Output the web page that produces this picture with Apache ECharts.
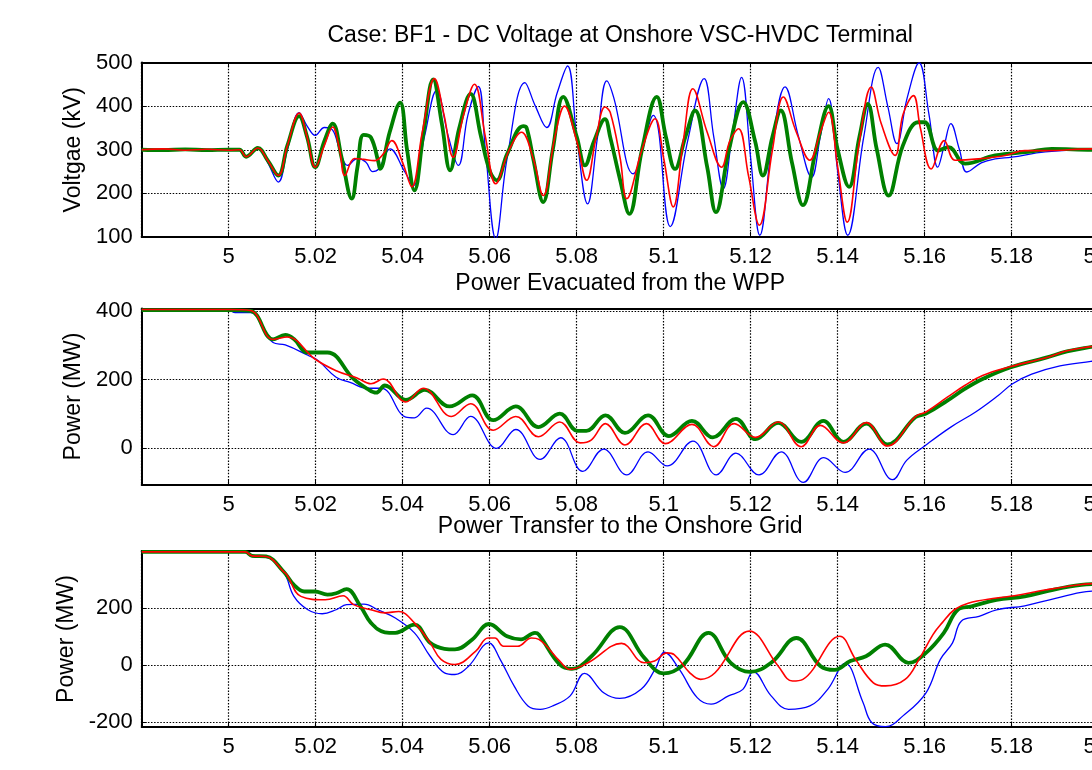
<!DOCTYPE html>
<html>
<head>
<meta charset="utf-8">
<script src="https://cdn.jsdelivr.net/npm/echarts@6/dist/echarts.min.js"></script>
<style>
html,body{margin:0;padding:0;background:#fff;}
#chart{width:1092px;height:770px;}
</style>
</head>
<body>
<div id="chart"></div>
<script>
// ---------- titles / labels ----------
const titles = ['Case: BF1 - DC Voltage at Onshore VSC-HVDC Terminal', 'Power Evacuated from the WPP', 'Power Transfer to the Onshore Grid'];
const yNames = ['Voltgae (kV)', 'Power (MW)', 'Power (MW)'];
const xTicks = [4.98, 5.2, 0.02]; // min, max, step
const yTicksMid = [0, 200, 400];
const yTicksBot = [-200, 0, 200];

// ---------- DC voltage (kV) ----------
const voltBlue = [[4.98,300],[4.985,301],[4.99,299],[4.995,301],[5.0,300],[5.0025,300],[5.004,284],[5.0067,304],[5.009,270],[5.0114,226],[5.0135,300],[5.0162,385],[5.018,355],[5.0199,333],[5.022,351],[5.0239,345],[5.0255,300],[5.0273,264],[5.0296,280],[5.0315,272],[5.0331,250],[5.0345,256],[5.0371,302],[5.0405,249],[5.0425,218],[5.045,330],[5.0478,436],[5.0505,330],[5.0528,264],[5.055,380],[5.0574,445],[5.059,300],[5.0614,96],[5.064,280],[5.0681,454],[5.0705,400],[5.0731,351],[5.0755,430],[5.0779,492],[5.080,330],[5.0825,176],[5.0848,330],[5.0869,458],[5.0885,420],[5.093,245],[5.0976,379],[5.1015,124],[5.1055,320],[5.1093,463],[5.1115,330],[5.1137,211],[5.1158,340],[5.1179,466],[5.12,280],[5.1221,104],[5.125,320],[5.1279,444],[5.131,330],[5.134,237],[5.136,330],[5.1379,417],[5.140,250],[5.1423,104],[5.146,330],[5.1493,489],[5.1515,400],[5.1536,314],[5.156,420],[5.1587,499],[5.161,380],[5.163,260],[5.1645,310],[5.166,360],[5.168,300],[5.1697,249],[5.173,270],[5.1762,279],[5.18,283],[5.1877,295],[5.1985,301],[5.2,300]];
const voltGreen = [[4.98,300],[4.985,299],[4.99,301],[4.995,299],[5.0,300],[5.0025,300],[5.004,284],[5.0067,304],[5.009,275],[5.0114,241],[5.0135,310],[5.0162,377],[5.018,330],[5.0199,260],[5.022,320],[5.0239,360],[5.026,280],[5.0283,188],[5.0296,260],[5.031,334],[5.0327,328],[5.0344,272],[5.0348,256],[5.037,340],[5.0394,408],[5.041,300],[5.0427,207],[5.0448,340],[5.047,461],[5.049,360],[5.0509,253],[5.053,350],[5.0556,428],[5.058,330],[5.0601,249],[5.0616,230],[5.064,290],[5.0677,354],[5.0685,350],[5.070,280],[5.0723,180],[5.0745,300],[5.0769,421],[5.080,330],[5.0819,264],[5.084,320],[5.0865,370],[5.0877,329],[5.090,230],[5.0921,153],[5.095,300],[5.0984,421],[5.1005,330],[5.1026,256],[5.105,330],[5.1072,390],[5.110,260],[5.112,157],[5.115,300],[5.1183,409],[5.121,320],[5.1228,241],[5.125,330],[5.1269,390],[5.1295,270],[5.132,173],[5.135,300],[5.1379,400],[5.140,300],[5.1426,215],[5.145,330],[5.1469,405],[5.149,300],[5.1517,195],[5.155,310],[5.1585,363],[5.160,363],[5.1631,298],[5.1655,306],[5.1693,268],[5.1762,287],[5.1838,295],[5.1892,302],[5.1985,300],[5.2,300]];
const voltRed = [[4.98,300],[4.985,302],[4.99,299],[4.995,301],[5.0,299],[5.0025,300],[5.004,284],[5.0067,304],[5.009,275],[5.0114,241],[5.0135,310],[5.0162,384],[5.018,330],[5.0199,260],[5.022,310],[5.0239,352],[5.0255,300],[5.0267,241],[5.0289,280],[5.031,278],[5.0335,275],[5.0355,290],[5.0375,321],[5.040,270],[5.0421,215],[5.0445,340],[5.0473,463],[5.0495,380],[5.0516,283],[5.054,380],[5.0565,450],[5.059,330],[5.0614,222],[5.0645,300],[5.0673,340],[5.070,280],[5.0723,195],[5.075,330],[5.0772,400],[5.080,320],[5.0823,230],[5.0845,330],[5.0865,398],[5.0877,386],[5.090,280],[5.0915,188],[5.095,300],[5.098,371],[5.100,280],[5.1022,169],[5.1045,320],[5.1067,440],[5.110,340],[5.1133,260],[5.1152,320],[5.1172,348],[5.1195,240],[5.122,127],[5.125,300],[5.1275,421],[5.1305,340],[5.1336,276],[5.136,340],[5.1379,386],[5.140,260],[5.1422,134],[5.145,320],[5.1477,444],[5.150,360],[5.1532,287],[5.155,380],[5.1574,424],[5.159,350],[5.1615,256],[5.1645,321],[5.167,276],[5.1723,279],[5.1785,287],[5.183,298],[5.1877,298],[5.1985,302],[5.2,300]];

// ---------- Power evacuated from WPP (MW) ----------
const evacBlue = [[4.98,403],[5.0,402],[5.0015,395],[5.005,395],[5.0102,308],[5.013,301],[5.0182,271],[5.0206,255],[5.0247,207],[5.0279,192],[5.0319,175],[5.0351,175],[5.0407,91],[5.0427,89],[5.0455,117],[5.0516,40],[5.0556,93],[5.0616,0],[5.066,55],[5.0716,-32],[5.0763,31],[5.0814,-67],[5.0862,-2],[5.0915,-77],[5.0964,-10],[5.1008,-51],[5.1067,21],[5.1121,-77],[5.1166,-14],[5.1219,-77],[5.127,-10],[5.1321,-99],[5.1368,-27],[5.1417,-70],[5.1472,-2],[5.1526,-91],[5.1559,-34],[5.1603,10],[5.166,62],[5.1717,106],[5.1769,154],[5.1802,188],[5.1846,216],[5.1911,240],[5.1982,253],[5.2,256]];
const evacGreen = [[4.98,402],[5.0,402],[5.005,400],[5.0102,317],[5.013,330],[5.015,318],[5.0182,279],[5.0227,279],[5.0287,202],[5.0319,173],[5.0339,162],[5.0359,183],[5.0407,141],[5.0451,170],[5.0508,122],[5.056,154],[5.0608,82],[5.066,122],[5.0712,62],[5.0761,101],[5.0802,51],[5.0822,51],[5.0866,96],[5.0911,45],[5.0964,96],[5.1012,36],[5.1065,80],[5.1113,32],[5.1166,86],[5.1211,27],[5.1263,74],[5.1316,19],[5.1367,80],[5.1413,19],[5.1466,72],[5.1514,12],[5.1579,91],[5.1603,101],[5.1652,139],[5.1692,173],[5.1733,202],[5.1798,236],[5.1879,264],[5.1927,282],[5.1982,295],[5.2,298]];
const evacRed = [[4.98,404],[5.0,404],[5.005,401],[5.0102,317],[5.0135,324],[5.0198,260],[5.0247,226],[5.0295,205],[5.0327,188],[5.0355,202],[5.0407,135],[5.0447,175],[5.0512,93],[5.0556,130],[5.0608,53],[5.066,93],[5.0712,34],[5.0761,77],[5.0808,16],[5.0834,25],[5.0866,72],[5.0911,10],[5.096,72],[5.1004,14],[5.1065,70],[5.1115,5],[5.1162,72],[5.1211,32],[5.1263,77],[5.1316,5],[5.136,67],[5.1413,16],[5.1466,75],[5.1514,7],[5.1579,93],[5.1603,106],[5.1652,149],[5.1692,183],[5.1733,212],[5.1798,238],[5.1879,264],[5.1927,284],[5.1982,296],[5.2,299]];

// ---------- Power transfer to onshore grid (MW) ----------
const gridBlue = [[4.98,397],[5.0038,397],[5.0054,380],[5.0086,378],[5.0126,328],[5.015,241],[5.0182,194],[5.0215,180],[5.0247,194],[5.0271,212],[5.0311,214],[5.0343,194],[5.0383,165],[5.0427,113],[5.0463,31],[5.0496,-27],[5.052,-33],[5.0552,-3],[5.0598,78],[5.0624,20],[5.0656,-73],[5.0688,-143],[5.0716,-155],[5.0745,-143],[5.0785,-108],[5.0818,-29],[5.0862,-97],[5.0899,-117],[5.0948,-85],[5.098,-15],[5.1002,45],[5.1036,-15],[5.1077,-114],[5.1109,-137],[5.1149,-108],[5.1182,-85],[5.1206,-23],[5.1247,-108],[5.1287,-155],[5.1336,-143],[5.1377,-85],[5.1417,6],[5.1458,-130],[5.1478,-201],[5.151,-216],[5.155,-178],[5.1603,-97],[5.1636,20],[5.1664,78],[5.1684,154],[5.1725,171],[5.1765,194],[5.183,208],[5.1887,229],[5.196,255],[5.2,260]];
const gridGreen = [[4.98,397],[5.0038,397],[5.0054,383],[5.0086,381],[5.0126,328],[5.015,281],[5.0174,258],[5.0198,258],[5.0227,247],[5.0247,252],[5.0271,266],[5.0303,206],[5.0327,148],[5.0359,115],[5.0383,113],[5.0427,142],[5.0463,78],[5.0496,57],[5.052,55],[5.056,90],[5.0598,144],[5.064,101],[5.0672,90],[5.0704,113],[5.0713,107],[5.0761,2],[5.0789,-13],[5.0834,31],[5.0899,133],[5.0955,26],[5.1,-29],[5.1044,0],[5.1103,113],[5.1154,8],[5.1198,-24],[5.1247,8],[5.1305,95],[5.136,-3],[5.1393,-17],[5.1429,14],[5.1465,31],[5.1509,72],[5.1563,8],[5.1603,43],[5.1644,113],[5.1676,194],[5.1708,206],[5.1765,229],[5.183,241],[5.1895,264],[5.196,281],[5.2,284]];
const gridRed = [[4.98,397],[5.0038,397],[5.0054,383],[5.0086,381],[5.0126,328],[5.0134,316],[5.0166,241],[5.0222,229],[5.0263,243],[5.0287,212],[5.0327,194],[5.0359,183],[5.0391,188],[5.0427,148],[5.0463,78],[5.0488,20],[5.052,2],[5.0568,49],[5.0596,95],[5.0612,95],[5.0632,66],[5.0664,66],[5.0696,95],[5.0713,90],[5.0761,14],[5.0785,-15],[5.0826,8],[5.0903,76],[5.0955,8],[5.0979,14],[5.1008,43],[5.1024,37],[5.106,-27],[5.1085,-50],[5.1118,-27],[5.1197,119],[5.1263,-3],[5.1296,-56],[5.132,-50],[5.1405,101],[5.1441,20],[5.1482,-62],[5.151,-73],[5.1555,-50],[5.1587,20],[5.1619,107],[5.164,148],[5.1668,194],[5.17,217],[5.1765,235],[5.1806,243],[5.1879,264],[5.1952,281],[5.2,287]];

// ---------- layout ----------
const FONT = "'Liberation Sans', Arial, Helvetica, sans-serif";
const gridsPx = [
  {top: 62.5, height: 174.5},
  {top: 308.5, height: 176},
  {top: 551, height: 176}
];
const yRanges = [
  {min: 100, max: 500, interval: 100},
  {min: -105, max: 407, custom: yTicksMid},
  {min: -217, max: 400, custom: yTicksBot}
];
const titleY = [36, 284, 527];
const PLOT_LEFT = 141.7, PLOT_W = 957;

const chart = echarts.init(document.getElementById('chart'), null, {renderer: 'canvas'});

const grid = gridsPx.map(g => ({left: PLOT_LEFT, top: g.top, width: PLOT_W, height: g.height,
  show: false, outerBoundsMode: 'none', containLabel: false}));

const dotted = {color: '#000', width: 1.2, type: [1.5, 1.6]};
const xAxis = [], yAxis = [];
gridsPx.forEach((g, i) => {
  xAxis.push({
    type: 'value', gridIndex: i, min: xTicks[0], max: xTicks[1], interval: xTicks[2],
    axisLine: {show: true, onZero: false, lineStyle: {color: '#000', width: 2}},
    axisTick: {show: true, inside: true, length: 5, lineStyle: {color: '#000', width: 1}},
    axisLabel: {show: true, showMinLabel: false, color: '#000', fontFamily: FONT, fontSize: 22, margin: 9,
      formatter: v => String(parseFloat(v.toFixed(2)))},
    splitLine: {show: true, lineStyle: dotted}
  });
  xAxis.push({
    type: 'value', gridIndex: i, position: 'top', min: xTicks[0], max: xTicks[1], interval: xTicks[2],
    axisLine: {show: true, onZero: false, lineStyle: {color: '#000', width: 2}},
    axisTick: {show: true, inside: true, length: 5, lineStyle: {color: '#000', width: 1}},
    axisLabel: {show: false}, splitLine: {show: false}
  });
  const r = yRanges[i];
  const ya = {
    type: 'value', gridIndex: i, min: r.min, max: r.max,
    name: yNames[i], nameLocation: 'middle', nameGap: 57,
    nameTextStyle: {color: '#000', fontFamily: FONT, fontSize: 23},
    axisLine: {show: true, onZero: false, lineStyle: {color: '#000', width: 2}},
    axisTick: {show: true, inside: true, length: 5, lineStyle: {color: '#000', width: 1}},
    axisLabel: {show: true, color: '#000', fontFamily: FONT, fontSize: 22, margin: 9},
    splitLine: {show: true, lineStyle: dotted}
  };
  if (r.interval) ya.interval = r.interval;
  if (r.custom) { ya.axisTick.customValues = r.custom; ya.axisLabel.customValues = r.custom; }
  yAxis.push(ya);
});

function line(data, color, width, gi, z) {
  return {type: 'line', data: data, xAxisIndex: gi * 2, yAxisIndex: gi, showSymbol: false, symbol: 'none',
    smooth: 0.4, lineStyle: {color: color, width: width}, itemStyle: {color: color}, z: z, animation: false, clip: true};
}
const series = [
  line(voltBlue, '#0000ff', 1.3, 0, 2), line(voltGreen, '#008000', 3.8, 0, 3), line(voltRed, '#ff0000', 1.6, 0, 4),
  line(evacBlue, '#0000ff', 1.3, 1, 2), line(evacGreen, '#008000', 3.8, 1, 3), line(evacRed, '#ff0000', 1.6, 1, 4),
  line(gridBlue, '#0000ff', 1.3, 2, 2), line(gridGreen, '#008000', 3.8, 2, 3), line(gridRed, '#ff0000', 1.6, 2, 4)
];

const graphic = titles.map((t, i) => ({
  type: 'text', x: PLOT_LEFT + PLOT_W / 2, y: titleY[i], silent: true,
  style: {text: t, fill: '#000', font: '23px ' + FONT, textAlign: 'center', textVerticalAlign: 'middle'}
}));

chart.setOption({
  animation: false,
  backgroundColor: '#fff',
  grid: grid, xAxis: xAxis, yAxis: yAxis, series: series, graphic: graphic
});
</script>
</body>
</html>
